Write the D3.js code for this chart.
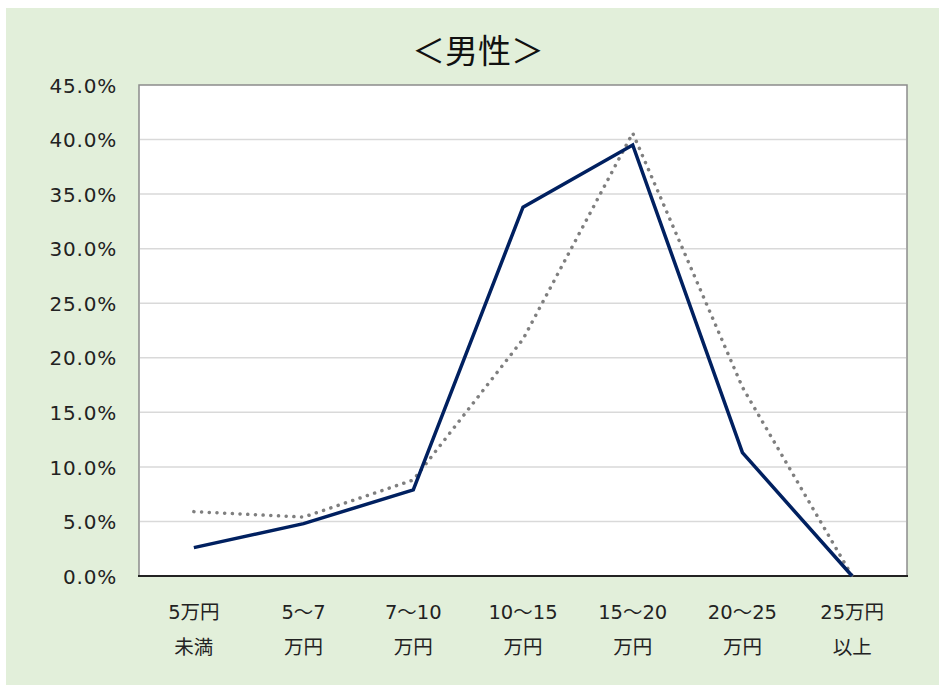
<!DOCTYPE html>
<html><head><meta charset="utf-8">
<script src="https://cdn.jsdelivr.net/npm/d3@7/dist/d3.min.js"></script>
<style>body{margin:0;background:#fff;}</style>
</head><body>
<svg id="c" width="939" height="685"></svg>
<script>
const categoriesLine1 = ["5万円","5～7","7～10","10～15","15～20","20～25","25万円"];
const categoriesLine2 = ["未満","万円","万円","万円","万円","万円","以上"];
const seriesSolid = [2.6, 4.8, 7.9, 33.8, 39.5, 11.3, 0.0];
const seriesDotted = [5.9, 5.4, 8.8, 21.7, 40.6, 17.3, 0.0];
const yTicks = [0,5,10,15,20,25,30,35,40,45];
const title = "＜男性＞";

const svg = d3.select("#c");
const W = 939, H = 685;
const m = {left:139, right:907, top:85, bottom:576};
const font = "'DejaVu Sans','Noto Sans CJK JP',sans-serif";

svg.append("rect").attr("x",0).attr("y",0).attr("width",W).attr("height",H).attr("fill","#fff");
svg.append("rect").attr("x",6).attr("y",8).attr("width",W-6).attr("height",H-8).attr("fill","#e2efda");

const x = d3.scalePoint().domain(d3.range(categoriesLine1.length)).range([m.left, m.right]).padding(0.5);
const y = d3.scaleLinear().domain([0,45]).range([m.bottom, m.top]);

svg.append("rect").attr("x",m.left).attr("y",m.top).attr("width",m.right-m.left).attr("height",m.bottom-m.top)
  .attr("fill","#fff").attr("stroke","#8c8c8c").attr("stroke-width",1.5);

// gridlines
svg.append("g").selectAll("line").data(yTicks.filter(t=>t>0 && t<45)).join("line")
  .attr("x1",m.left+1).attr("x2",m.right-1).attr("y1",d=>y(d)).attr("y2",d=>y(d))
  .attr("stroke","#d9d9d9").attr("stroke-width",1.5);

// y axis labels
const yAxis = d3.axisLeft(y).tickValues(yTicks).tickFormat(d=>d.toFixed(1)+"%").tickSize(0).tickPadding(22);
const gy = svg.append("g").attr("transform",`translate(${m.left},0)`).call(yAxis);
gy.select(".domain").remove();
gy.selectAll("text").attr("font-family",font).attr("font-size",20).attr("fill","#222").attr("letter-spacing","0.8px").attr("dy","0.36em");

// bottom axis line
svg.append("line").attr("x1",m.left-1).attr("x2",m.right+1).attr("y1",m.bottom).attr("y2",m.bottom)
  .attr("stroke","#222").attr("stroke-width",2);

// x labels
const gx = svg.append("g");
categoriesLine1.forEach((c,i)=>{
  gx.append("text").attr("x",x(i)).attr("y",619).attr("text-anchor","middle")
    .attr("font-family",font).attr("font-size",19.5).attr("fill","#222").text(c);
  gx.append("text").attr("x",x(i)).attr("y",654).attr("text-anchor","middle")
    .attr("font-family",font).attr("font-size",19.5).attr("fill","#222").text(categoriesLine2[i]);
});

const line = d3.line().x((d,i)=>x(i)).y(d=>y(d));
svg.append("path").datum(seriesDotted).attr("d",line).attr("fill","none")
  .attr("stroke","#7f7f7f").attr("stroke-width",3.5).attr("stroke-linecap","round").attr("stroke-dasharray","0.1 7.6");
svg.append("path").datum(seriesSolid).attr("d",line).attr("fill","none")
  .attr("stroke","#002060").attr("stroke-width",3.5).attr("stroke-linejoin","miter");

svg.append("text").attr("x",478).attr("y",63).attr("text-anchor","middle")
  .attr("font-family","'Noto Sans CJK JP',sans-serif").attr("font-size",33).attr("fill","#111").text(title);
</script>
</body></html>
